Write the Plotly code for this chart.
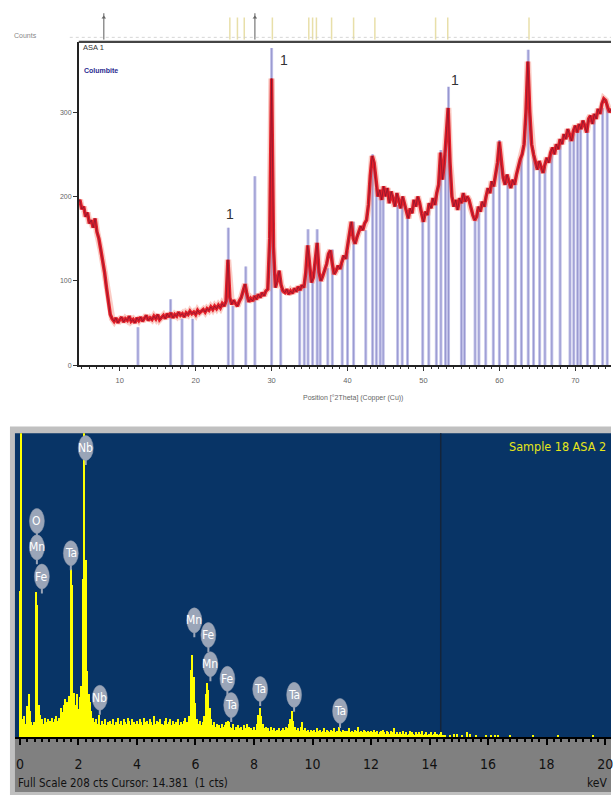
import numpy as np
import plotly.graph_objects as go

# ---------------- XRD data (top panel) ----------------
xrd_start, xrd_step = 4.5, 0.25
xrd_counts = [
    192, 196,
    185, 188, 176, 181,
    168, 172, 163, 174,
    158, 150, 137, 124,
    110, 92, 74, 60,
    55, 52, 56, 50,
    54, 57, 51, 55,
    53, 58, 52, 54,
    50, 56, 53, 57,
    52, 55, 59, 53,
    56, 54, 58, 55,
    60, 54, 57, 59,
    55, 61, 57, 62,
    56, 60, 58, 63,
    59, 61, 57, 62,
    60, 64, 61, 63,
    60, 65, 62, 64,
    66, 63, 67, 65,
    69, 66, 70, 67,
    71, 68, 73, 70,
    76, 125, 80, 72,
    77, 73, 70, 76,
    80, 88, 96, 84,
    75, 79, 76, 82,
    78, 84, 80, 86,
    82, 88, 90, 150,
    340, 140, 92, 100,
    112, 95, 88, 86,
    90, 84, 88, 85,
    91, 87, 93, 89,
    95, 92, 110, 142,
    118, 98, 104, 128,
    145, 110, 100, 106,
    112, 120, 132, 136,
    120, 108, 112, 118,
    114, 124, 130, 126,
    140, 152, 170, 150,
    144, 152, 158, 165,
    160, 168, 172, 190,
    225, 248, 240, 215,
    200, 208, 196, 212,
    200, 210, 192, 206,
    198, 188, 204, 194,
    186, 200, 190, 180,
    174, 186, 180, 196,
    188, 200, 192, 180,
    170, 182, 178, 192,
    186, 198, 190, 204,
    214, 252, 220, 240,
    268, 305, 240, 200,
    188, 196, 184, 198,
    192, 204, 194, 200,
    196, 186, 178, 172,
    176, 188, 182, 194,
    188, 200, 210, 204,
    218, 212, 224, 240,
    265, 238, 222, 214,
    226, 218, 210, 220,
    214, 226, 236, 244,
    250, 262, 300, 360,
    300, 262, 250, 240,
    232, 242, 236, 228,
    238, 246, 240, 252,
    258, 250, 262, 256,
    268, 262, 274, 268,
    280, 272, 266, 278,
    284, 276, 286, 280,
    290, 284, 276, 292,
    296, 286, 298, 292,
    304, 298, 310, 316,
    314, 306, 300, 304,
]
xrd_two_theta = xrd_start + xrd_step * np.arange(len(xrd_counts))

# reference (Columbite) stick pattern
stick_pos = [12.4, 16.7, 18.2, 19.6, 24.3, 24.9, 26.6, 27.8, 30.0, 31.2, 33.7, 34.3,
             34.8, 35.4, 36.0, 36.4, 37.4, 38.0, 39.3, 40.0, 40.8, 42.4, 43.3, 43.8,
             44.3, 44.7, 46.6, 47.2, 47.9, 49.9, 50.7, 51.7, 52.3, 52.9, 53.3, 55.0,
             55.4, 56.8, 57.3, 58.2, 59.2, 60.0, 61.1, 62.1, 62.9, 63.8, 64.5, 65.3,
             66.0, 66.9, 68.0, 69.3, 69.8, 70.3, 70.7, 71.6, 72.5, 73.6, 74.2]
stick_height = [45, 78, 55, 55, 163, 70, 117, 224, 376, 90, 90, 92,
                161, 100, 161, 105, 115, 137, 120, 135, 170, 160, 250, 210,
                200, 200, 190, 195, 178, 172, 185, 200, 255, 250, 330, 195,
                200, 175, 180, 200, 215, 267, 225, 215, 245, 374, 255, 235,
                235, 255, 268, 275, 275, 280, 282, 285, 295, 305, 310]

# peak list markers in the strip above the plot
strip_yellow = [24.5, 25.5, 26.4, 30.1, 34.9, 35.4, 35.9, 37.9, 40.8, 43.6, 51.6, 53.2, 63.9]
strip_dark = [7.9, 27.8]

xrd_label_text = ["1", "1", "1"]
xrd_label_x = [24.5, 31.6, 54.1]
xrd_label_y = [179, 362, 338]

# ---------------- EDS data (bottom panel) ----------------
eds_step = 0.05
eds_counts = [
    100, 240, 12, 14, 9, 21, 29, 18, 10, 8, 10, 99, 90, 22, 15, 12, 9, 13, 10, 12,   # 0
    9, 11, 13, 10, 12, 14, 11, 13, 20, 17, 22, 26, 24, 19, 28, 115, 104, 30, 22, 29,  # 1
    19, 27, 35, 108, 240, 121, 45, 29, 24, 18, 13, 10, 12, 9, 15, 8, 11, 9, 12, 8,    # 2
    10, 7, 11, 9, 12, 8, 10, 13, 9, 11, 8, 12, 10, 9, 13, 11, 8, 12, 10, 9,          # 3
    11, 9, 12, 10, 8, 13, 10, 11, 9, 12, 10, 8, 14, 9, 11, 10, 12, 9, 8, 11,         # 4
    13, 9, 10, 12, 8, 11, 9, 10, 12, 8, 10, 9, 11, 13, 10, 9, 14, 46, 56, 41,        # 5
    23, 12, 9, 11, 8, 10, 14, 29, 37, 32, 20, 12, 8, 10, 7, 9, 8, 6, 9, 7,           # 6
    8, 10, 11, 10, 7, 6, 9, 5, 7, 8, 6, 7, 5, 8, 6, 9, 5, 7, 6, 5,                   # 7
    7, 5, 9, 15, 20, 14, 9, 6, 7, 5, 6, 4, 7, 5, 6, 4, 5, 6, 4, 5,                   # 8
    6, 5, 7, 6, 9, 12, 18, 11, 7, 5, 6, 4, 7, 10, 5, 6, 4, 5, 3, 5,                  # 9
    4, 5, 3, 6, 4, 5, 3, 4, 6, 3, 5, 4, 3, 5, 4, 6, 3, 4, 7, 4,                      # 10
    3, 5, 4, 3, 4, 6, 3, 4, 3, 5, 4, 7, 3, 4, 3, 5, 4, 3, 4, 3,                      # 11
    4, 3, 5, 3, 4, 2, 3, 4, 5, 3, 2, 4, 3, 2, 4, 3, 6, 2, 3, 2,                      # 12
    3, 2, 4, 2, 3, 1, 2, 4, 3, 2, 1, 3, 2, 3, 2, 4, 1, 2, 3, 1,                      # 13
    2, 3, 1, 2, 3, 2, 1, 2, 3, 1, 0, 1, 0, 0, 1, 0, 0, 2, 0, 2,                      # 14
    0, 0, 1, 0, 0, 0, 3, 0, 2, 0, 0, 0, 1, 0, 0, 0, 0, 0, 0, 1,                      # 15
    0, 0, 1, 0, 0, 1, 0, 1, 0, 0, 0, 0, 0, 0, 0, 1, 0, 0, 0, 0,                      # 16
    0, 0, 0, 0, 0, 0, 0, 0, 0, 0, 0, 1, 0, 0, 0, 0, 0, 0, 0, 0,                      # 17
    0, 0, 0, 0, 0, 0, 0, 0, 1, 0, 0, 0, 0, 0, 0, 0, 0, 0, 0, 0,                      # 18
    0, 0, 0, 0, 0, 0, 0, 0, 0, 0, 0, 0, 1, 0, 0, 0, 0, 0, 0, 0, 0,                   # 19-20
]
eds_kev = np.round(eds_step * np.arange(len(eds_counts)), 3)
eds_full_scale = 208
eds_cursor = 14.381

eds_label_text = ["Nb", "O", "Mn", "Fe", "Ta", "Nb", "Mn", "Fe", "Mn", "Fe", "Ta", "Ta", "Ta", "Ta"]
eds_label_kev = [2.25, 0.58, 0.58, 0.75, 1.74, 2.73, 5.96, 6.44, 6.51, 7.09, 7.22, 8.21, 9.37, 10.94]
eds_label_cts = [198, 148, 130, 110, 126, 27, 80, 70, 50, 40, 22, 33, 29, 18]

# ---------------- figure ----------------
W, H = 613, 798
def px(v):   # horizontal pixel -> paper
    return v / W
def py(v):   # vertical pixel (from top) -> paper
    return 1 - v / H

SANS = "Liberation Sans, Arial, sans-serif"
NARROW = "DejaVu Sans Condensed, Liberation Sans Narrow, Liberation Sans, sans-serif"

def stick_xy(pos, y0, y1s):
    xs, ys = [], []
    for p, h in zip(pos, y1s):
        xs += [p, p, None]
        ys += [y0, h, None]
    return xs, ys

fig = go.Figure()

# strip sticks
sx, sy = stick_xy(strip_yellow, 0, [0.8] * len(strip_yellow))
fig.add_trace(go.Scatter(x=sx, y=sy, mode="lines", xaxis="x", yaxis="y3",
                         line=dict(color="rgba(230,220,160,0.9)", width=1.5), hoverinfo="skip"))
sx, sy = stick_xy(strip_dark, 0, [0.95] * len(strip_dark))
fig.add_trace(go.Scatter(x=sx, y=sy, mode="lines", xaxis="x", yaxis="y3",
                         line=dict(color="#777", width=1.2), hoverinfo="skip"))
fig.add_trace(go.Scatter(x=strip_dark, y=[0.8] * len(strip_dark), mode="markers", xaxis="x", yaxis="y3",
                         marker=dict(symbol="triangle-up", size=4, color="#666"), hoverinfo="skip"))

# stick pattern
sx, sy = stick_xy(stick_pos, 0, stick_height)
fig.add_trace(go.Scatter(x=sx, y=sy, mode="lines", xaxis="x", yaxis="y",
                         line=dict(color="rgba(130,130,210,0.5)", width=3), hoverinfo="skip"))
fig.add_trace(go.Scatter(x=sx, y=sy, mode="lines", xaxis="x", yaxis="y",
                         line=dict(color="rgba(90,90,170,0.5)", width=0.8), hoverinfo="skip"))

# XRD measured curve
fig.add_trace(go.Scatter(x=xrd_two_theta, y=xrd_counts, mode="lines", xaxis="x", yaxis="y",
                         line=dict(color="rgba(240,110,90,0.35)", width=6.5), hoverinfo="skip"))
fig.add_trace(go.Scatter(x=xrd_two_theta, y=xrd_counts, mode="lines", xaxis="x", yaxis="y",
                         line=dict(color="#e3202a", width=3.5), hoverinfo="skip"))
fig.add_trace(go.Scatter(x=xrd_two_theta, y=xrd_counts, mode="lines", xaxis="x", yaxis="y",
                         line=dict(color="rgba(110,20,50,0.75)", width=0.8), hoverinfo="skip"))

# EDS spectrum
fig.add_trace(go.Bar(x=eds_kev, y=eds_counts, width=eds_step, xaxis="x2", yaxis="y2",
                     marker=dict(color="#ffff00", line=dict(width=0)), hoverinfo="skip"))

shapes = [
    # EDS frames
    dict(type="rect", xref="paper", yref="paper", x0=px(10), x1=1, y0=0, y1=py(428),
         fillcolor="#c0c0c0", line=dict(width=0), layer="below"),
    dict(type="rect", xref="paper", yref="paper", x0=px(15), x1=1, y0=py(795), y1=py(740),
         fillcolor="#808080", line=dict(width=0), layer="below"),
    dict(type="rect", xref="paper", yref="paper", x0=px(15), x1=1, y0=py(740), y1=py(435),
         fillcolor="#083466", line=dict(width=0), layer="below"),
    # XRD top border and strip baseline
    dict(type="line", xref="paper", yref="paper", x0=px(79), x1=1, y0=py(42), y1=py(42),
         line=dict(color="#444", width=2.2)),
    dict(type="line", xref="paper", yref="paper", x0=px(70), x1=1, y0=py(37.5), y1=py(37.5),
         line=dict(color="#ccc", width=0.8, dash="dot")),
    # cursor
    dict(type="line", xref="x2", yref="y2 domain", x0=eds_cursor, x1=eds_cursor, y0=0, y1=1,
         line=dict(color="#14243a", width=1.5), layer="below"),
]

annotations = [
    dict(text="Counts", x=px(12), y=py(36), xref="paper", yref="paper", xanchor="left", yanchor="middle",
         showarrow=False, font=dict(family=SANS, size=7, color="#888")),
    dict(text="ASA 1", x=px(81), y=py(48), xref="paper", yref="paper", xanchor="left", yanchor="middle",
         showarrow=False, font=dict(family=SANS, size=7.5, color="#333")),
    dict(text="<b>Columbite</b>", x=px(82), y=py(71), xref="paper", yref="paper", xanchor="left", yanchor="middle",
         showarrow=False, font=dict(family=SANS, size=7, color="#2a2a90")),
    dict(text="Position [°2Theta] (Copper (Cu))", x=px(302), y=py(399), xref="paper", yref="paper",
         xanchor="left", yanchor="middle", showarrow=False, font=dict(family=SANS, size=7, color="#666")),
    dict(text="Sample 18 ASA 2", x=px(610), y=py(448), xref="paper", yref="paper", xanchor="right",
         yanchor="middle", showarrow=False, font=dict(family=NARROW, size=12.5, color="#e6e619")),
    dict(text="Full Scale %d cts Cursor: %.3f  (1 cts)" % (eds_full_scale, eds_cursor), x=px(16), y=py(786),
         xref="paper", yref="paper", xanchor="left", yanchor="middle", showarrow=False,
         font=dict(family=NARROW, size=11.5, color="#111")),
    dict(text="keV", x=px(611), y=py(786), xref="paper", yref="paper", xanchor="right", yanchor="middle",
         showarrow=False, font=dict(family=NARROW, size=12, color="#111")),
]
for t, xv, yv in zip(xrd_label_text, xrd_label_x, xrd_label_y):
    annotations.append(dict(text=t, x=xv, y=yv, xref="x", yref="y", showarrow=False,
                            font=dict(family=SANS, size=14, color="#333")))

for t, kv, cv in zip(eds_label_text, eds_label_kev, eds_label_cts):
    shapes.append(dict(type="line", xref="x2", yref="y2", xsizemode="pixel", ysizemode="pixel",
                       xanchor=kv, yanchor=cv, x0=0, x1=0, y0=-17, y1=-8,
                       line=dict(color="#9aa5b8", width=2)))
    shapes.append(dict(type="circle", xref="x2", yref="y2", xsizemode="pixel", ysizemode="pixel",
                       xanchor=kv, yanchor=cv, x0=-7.5, x1=7.5, y0=-12.5, y1=12.5,
                       fillcolor="#9aa5b8", line=dict(color="#8a96aa", width=0.5)))
    annotations.append(dict(text=t, x=kv, y=cv, xref="x2", yref="y2", showarrow=False,
                            font=dict(family=NARROW, size=12, color="white")))

fig.update_layout(
    width=W, height=H, margin=dict(l=0, r=0, t=0, b=0),
    paper_bgcolor="white", plot_bgcolor="rgba(0,0,0,0)",
    showlegend=False, bargap=0,
    xaxis=dict(domain=[px(79), 1], range=[4.6, 74.7], anchor="y", showline=True, linecolor="#222",
               linewidth=1.5, ticks="outside", tick0=0, dtick=10, ticklen=4, tickcolor="#333",
               tickfont=dict(family=SANS, size=7.5, color="#666"), showgrid=False, zeroline=False,
               ticklabelstandoff=3,
               minor=dict(ticks="outside", dtick=1, ticklen=2.5, tickcolor="#333", showgrid=False)),
    yaxis=dict(domain=[py(366.5), py(42)], range=[0, 383.4], anchor="x", showline=True, linecolor="#222",
               linewidth=1.5, ticks="outside", tickvals=[0, 100, 200, 300], ticklen=4, tickcolor="#333",
               tickfont=dict(family=SANS, size=7, color="#666"), showgrid=False, zeroline=False),
    yaxis3=dict(domain=[py(40), py(12)], range=[0, 1], anchor="x", visible=False),
    xaxis2=dict(domain=[px(15), 1], range=[-0.17, 20.2], anchor="y2", showline=True, linecolor="black",
                linewidth=2, ticks="outside", tick0=0, dtick=2, ticklen=6, tickwidth=1.5, tickcolor="black",
                tickfont=dict(family=NARROW, size=14, color="#111"), ticklabelstandoff=7,
                ticklabeloverflow="allow",
                showgrid=False, zeroline=False,
                minor=dict(ticks="outside", dtick=0.25, ticklen=3, tickcolor="black", showgrid=False)),
    yaxis2=dict(domain=[py(740), py(435)], range=[0, eds_full_scale], anchor="x2", visible=False),
    shapes=shapes, annotations=annotations,
)

fig.write_html("out.html")
